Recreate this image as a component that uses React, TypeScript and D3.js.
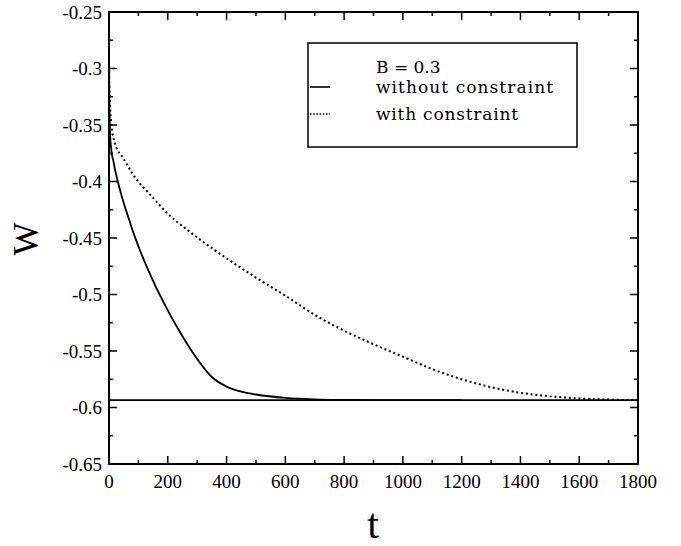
import React, { useEffect, useRef } from "react";
import * as d3 from "d3";

// time values and W for the run without constraint (solid)
const tSolid = [0, 1, 2, 4, 7, 10, 15, 20, 30, 40, 50, 65, 80, 105, 150, 200, 250, 300, 350, 400, 450, 500, 600, 700, 800, 900, 1000, 1100, 1200];
const wSolid = [-0.298, -0.32, -0.34, -0.36, -0.37, -0.376, -0.382, -0.389, -0.4, -0.41, -0.419, -0.431, -0.443, -0.4606, -0.488, -0.514, -0.537, -0.557, -0.573, -0.5815, -0.586, -0.5885, -0.5915, -0.5928, -0.5933, -0.5935, -0.5935, -0.5935, -0.5935];

// run with constraint (dotted)
const tDot = [0, 1, 3, 8, 20, 50, 80, 150, 200, 250, 300, 350, 400, 500, 600, 700, 800, 900, 1000, 1100, 1200, 1300, 1400, 1500, 1600, 1700, 1800];
const wDot = [-0.298, -0.315, -0.33, -0.35, -0.366, -0.38, -0.393, -0.4145, -0.4285, -0.4395, -0.4495, -0.459, -0.468, -0.485, -0.501, -0.518, -0.532, -0.544, -0.555, -0.566, -0.575, -0.582, -0.587, -0.59, -0.592, -0.593, -0.5935];

const wEquilibrium = -0.5935;

const xTicks = [0, 200, 400, 600, 800, 1000, 1200, 1400, 1600, 1800];
const yTicks = ["-0.65", "-0.6", "-0.55", "-0.5", "-0.45", "-0.4", "-0.35", "-0.3", "-0.25"];

const legendTitle = "B = 0.3";
const legendLabels = ["without constraint", "with constraint"];

const App = () => {
	const svgRef = useRef(null);

	useEffect(() => {
		const svg = d3.select(svgRef.current);
		svg.selectAll("*").remove();

		const left = 109, right = 638, top = 12, bottom = 464;
		const x = d3.scaleLinear().domain([0, 1800]).range([left, right]);
		const y = d3.scaleLinear().domain([-0.65, -0.25]).range([bottom, top]);

		const tickFont = "Times New Roman, Times, Liberation Serif, serif";

		svg
			.append("defs")
			.append("clipPath")
			.attr("id", "plotclip")
			.append("rect")
			.attr("x", left)
			.attr("y", top)
			.attr("width", right - left)
			.attr("height", bottom - top);

		// minor + major ticks on all four sides
		const ticksG = svg.append("g").attr("stroke", "#000").attr("stroke-width", 1.5);
		d3.range(0, 1801, 100).forEach((t) => {
			const len = t % 200 === 0 ? 8 : 4;
			ticksG.append("line").attr("x1", x(t)).attr("x2", x(t)).attr("y1", bottom).attr("y2", bottom - len);
			ticksG.append("line").attr("x1", x(t)).attr("x2", x(t)).attr("y1", top).attr("y2", top + len);
		});
		d3.range(0, 17).forEach((i) => {
			const w = -0.65 + i * 0.025;
			const len = i % 2 === 0 ? 8 : 4;
			ticksG.append("line").attr("x1", left).attr("x2", left + len).attr("y1", y(w)).attr("y2", y(w));
			ticksG.append("line").attr("x1", right).attr("x2", right - len).attr("y1", y(w)).attr("y2", y(w));
		});

		svg
			.append("g")
			.selectAll("text")
			.data(xTicks)
			.enter()
			.append("text")
			.attr("x", (d) => x(d))
			.attr("y", 488)
			.attr("text-anchor", "middle")
			.attr("font-family", tickFont)
			.attr("font-size", 19)
			.text((d) => String(d));

		svg
			.append("g")
			.selectAll("text")
			.data(yTicks)
			.enter()
			.append("text")
			.attr("x", 102)
			.attr("y", (d) => y(+d))
			.attr("dy", "0.35em")
			.attr("text-anchor", "end")
			.attr("font-family", tickFont)
			.attr("font-size", 19)
			.text((d) => d);

		const plot = svg.append("g").attr("clip-path", "url(#plotclip)");

		plot
			.append("line")
			.attr("x1", x(0))
			.attr("x2", x(1800))
			.attr("y1", y(wEquilibrium))
			.attr("y2", y(wEquilibrium))
			.attr("stroke", "#000")
			.attr("stroke-width", 1.6);

		const line = d3
			.line()
			.x((d) => x(d[0]))
			.y((d) => y(d[1]))
			.curve(d3.curveMonotoneX);

		plot
			.append("path")
			.datum(tDot.map((t, i) => [t, wDot[i]]))
			.attr("d", line)
			.attr("fill", "none")
			.attr("stroke", "#000")
			.attr("stroke-width", 2)
			.attr("stroke-dasharray", "2,2.8");

		plot
			.append("path")
			.datum(tSolid.map((t, i) => [t, wSolid[i]]))
			.attr("d", line)
			.attr("fill", "none")
			.attr("stroke", "#000")
			.attr("stroke-width", 1.8);

		// frame
		svg
			.append("rect")
			.attr("x", left)
			.attr("y", top)
			.attr("width", right - left)
			.attr("height", bottom - top)
			.attr("fill", "none")
			.attr("stroke", "#000")
			.attr("stroke-width", 2);

		// legend
		const lg = svg.append("g");
		lg.append("rect")
			.attr("x", 308)
			.attr("y", 43)
			.attr("width", 269)
			.attr("height", 104)
			.attr("fill", "#fff")
			.attr("stroke", "#000")
			.attr("stroke-width", 1.5);
		const legFont = "DejaVu Serif, Georgia, serif";
		lg.append("text")
			.attr("x", 376)
			.attr("y", 73)
			.attr("font-family", legFont)
			.attr("font-size", 17)
			.text(legendTitle);
		legendLabels.forEach((lbl, i) => {
			const yy = 93 + i * 27;
			const sample = lg
				.append("line")
				.attr("x1", 310)
				.attr("x2", 330)
				.attr("y1", yy - 6)
				.attr("y2", yy - 6)
				.attr("stroke", "#000")
				.attr("stroke-width", 1.6);
			if (i === 1) sample.attr("stroke-dasharray", "1.5,1.7");
			lg.append("text")
				.attr("x", 376)
				.attr("y", yy)
				.attr("font-family", legFont)
				.attr("font-size", 17)
				.attr("textLength", i === 0 ? 177 : 142)
				.text(lbl);
		});

		// axis titles
		svg
			.append("text")
			.attr("transform", "translate(38,239) rotate(-90)")
			.attr("text-anchor", "middle")
			.attr("font-family", tickFont)
			.attr("font-size", 35)
			.text("W");

		svg
			.append("text")
			.attr("x", 373)
			.attr("y", 538)
			.attr("text-anchor", "middle")
			.attr("font-family", tickFont)
			.attr("font-size", 42)
			.text("t");
	}, []);

	return (
		<svg
			ref={svgRef}
			width="681"
			height="546"
			style={{ position: "absolute", left: 0, top: 0, background: "#fff" }}
		></svg>
	);
};

export default App;
